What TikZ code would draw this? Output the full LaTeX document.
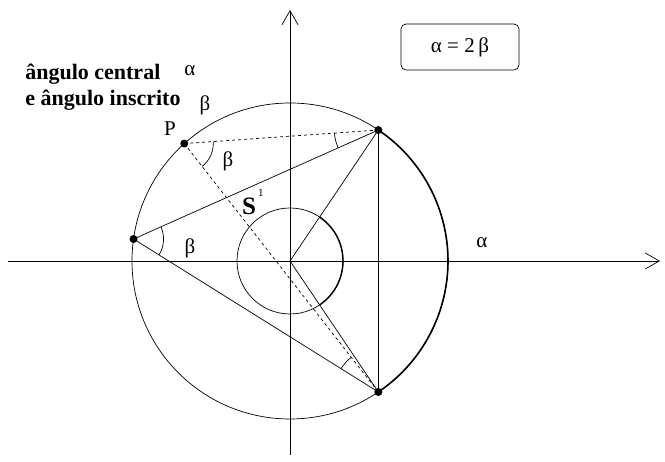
\documentclass[tikz,border=0pt]{standalone}
\usepackage{fontspec}
\setmainfont{Liberation Serif}
\newfontfamily\timesfont{Liberation Serif}
\usetikzlibrary{arrows.meta,angles,calc}

\begin{document}
\begin{tikzpicture}[x=1pt, y=1pt, line width=0.7pt,
  txt/.style={font=\timesfont\fontsize{21}{23}\selectfont, inner sep=0pt},
  btxt/.style={font=\timesfont\fontsize{22}{24}\selectfont\bfseries, inner sep=0pt, anchor=west},
  dot/.style={circle, fill, inner sep=0pt, minimum size=8pt},
  axis/.style={-{Straight Barb[length=14pt, width=16pt]}}
]
  \useasboundingbox (-290,-201) rectangle (375,261);

  % axes
  \coordinate (O) at (0,0);
  \draw[axis] (-282,0) -- (370,0);
  \draw[axis] (0,-194) -- (0,251);

  % circles
  \draw (O) circle[radius=158];
  \draw (O) circle[radius=53];
  \draw[line width=1.6pt] (-56:158) arc[start angle=-56, end angle=56, radius=158];
  \draw[line width=1.4pt] (-56:53) arc[start angle=-56, end angle=56, radius=53];

  % points on the circle
  \coordinate (A) at (56:158);
  \coordinate (B) at (-56:158);
  \coordinate (C) at (172:158);
  \coordinate (P) at (132:158);

  % chords and radii
  \draw (C) -- (A);
  \draw (C) -- (B);
  \draw (O) -- (A);
  \draw (O) -- (B);
  \draw (B) -- (A);
  \draw[dashed] (P) -- (A);
  \draw[dashed] (P) -- (B);

  % angle marks
  \draw pic[draw, angle radius=30pt] {angle=B--C--A};
  \draw pic[draw, angle radius=29pt] {angle=B--P--A};
  \draw pic[draw, angle radius=44pt] {angle=P--A--C};
  \draw pic[draw, angle radius=44pt] {angle=P--B--C};

  \node[dot] (dA) at (A) {};
  \node[dot] (dB) at (B) {};
  \node[dot] (dC) at (C) {};
  \node[dot] (dP) at (P) {};

  % labels
  \node[txt] (lP)  at (-120,132) {P};
  \node[txt] (bP)  at (-62,100)  {β};
  \node[txt] (bC)  at (-100,13)  {β};
  \node[txt] (aR)  at (192,18)   {α};
  \node[font=\timesfont\fontsize{25}{27}\selectfont\bfseries, inner sep=0pt] (S) at (-41,55) {S};
  \node[font=\timesfont\fontsize{11}{12}\selectfont, inner sep=0pt] (S1) at (-29,68) {1};

  \node[btxt] (t1) at (-265,187) {ângulo central};
  \node[txt]  (a1) at (-100,190) {α};
  \node[btxt] (t2) at (-265,161) {e ângulo inscrito};
  \node[txt]  (b1) at (-85,156)  {β};

  \node[draw, rounded corners=5pt, minimum width=118pt, minimum height=46pt,
        txt] (rel) at (170,214) {α = 2\,β};
\end{tikzpicture}
\end{document}
